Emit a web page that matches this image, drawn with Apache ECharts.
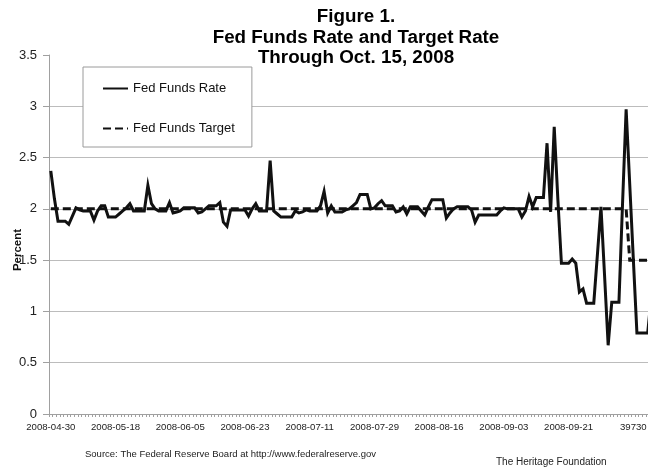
<!DOCTYPE html>
<html>
<head>
<meta charset="utf-8">
<title>Fed Funds Rate and Target Rate</title>
<script src="https://cdn.jsdelivr.net/npm/echarts@6/dist/echarts.min.js"></script>
<style>
  html, body { margin: 0; padding: 0; background: #fff; overflow: hidden; }
  #chart { width: 648px; height: 468px; }
</style>
</head>
<body>
<div id="chart"></div>
<script>
// Daily observations, 2008-04-30 onward (weekends and holidays carry the prior business day)
const startDate = [2008, 3, 30];

// Labels shown under every 18th day
const tickLabels = [
  '2008-04-30', '2008-05-18', '2008-06-05', '2008-06-23', '2008-07-11',
  '2008-07-29', '2008-08-16', '2008-09-03', '2008-09-21', '39730'
];

// Effective federal funds rate, percent
const fedFundsRate = [
  2.37, 2.10, 1.88, 1.88, 1.88, 1.85, 1.93, 2.01, 1.99, 1.98, 1.98, 1.98, 1.89, 1.98,
  2.03, 2.03, 1.92, 1.92, 1.92, 1.95, 1.98, 2.01, 2.05, 1.98, 1.98, 1.98, 1.98, 2.23,
  2.05, 2.00, 1.98, 1.98, 1.98, 2.06, 1.96, 1.97, 1.98, 2.01, 2.01, 2.01, 2.01, 1.96,
  1.97, 2.00, 2.03, 2.03, 2.03, 2.06, 1.87, 1.83, 1.99, 1.99, 1.99, 1.99, 1.99, 1.93,
  2.00, 2.05, 1.98, 1.98, 1.98, 2.47, 1.98, 1.95, 1.92, 1.92, 1.92, 1.92, 1.98, 1.96,
  1.97, 1.99, 1.98, 1.98, 1.98, 2.03, 2.17, 1.96, 2.03, 1.97, 1.97, 1.97, 1.99, 2.00,
  2.03, 2.06, 2.14, 2.14, 2.14, 2.00, 2.01, 2.05, 2.08, 2.03, 2.03, 2.03, 1.97, 1.98,
  2.02, 1.95, 2.02, 2.02, 2.02, 1.98, 1.94, 2.02, 2.09, 2.09, 2.09, 2.09, 1.91, 1.96,
  2.00, 2.02, 2.02, 2.02, 2.02, 1.99, 1.87, 1.94, 1.94, 1.94, 1.94, 1.94, 1.94, 1.98,
  2.01, 2.00, 2.00, 2.00, 2.00, 1.92, 1.98, 2.12, 2.02, 2.11, 2.11, 2.11, 2.64, 1.97,
  2.80, 2.10, 1.47, 1.47, 1.47, 1.51, 1.47, 1.19, 1.22, 1.08, 1.08, 1.08, 1.55, 2.02,
  1.35, 0.67, 1.09, 1.09, 1.09, 2.05, 2.97, 2.24, 1.51, 0.79, 0.79, 0.79, 0.79, 1.15,
  1.05
];

// FOMC target rate, percent
const fedFundsTarget = [
  2.00, 2.00, 2.00, 2.00, 2.00, 2.00, 2.00, 2.00, 2.00, 2.00, 2.00, 2.00, 2.00, 2.00,
  2.00, 2.00, 2.00, 2.00, 2.00, 2.00, 2.00, 2.00, 2.00, 2.00, 2.00, 2.00, 2.00, 2.00,
  2.00, 2.00, 2.00, 2.00, 2.00, 2.00, 2.00, 2.00, 2.00, 2.00, 2.00, 2.00, 2.00, 2.00,
  2.00, 2.00, 2.00, 2.00, 2.00, 2.00, 2.00, 2.00, 2.00, 2.00, 2.00, 2.00, 2.00, 2.00,
  2.00, 2.00, 2.00, 2.00, 2.00, 2.00, 2.00, 2.00, 2.00, 2.00, 2.00, 2.00, 2.00, 2.00,
  2.00, 2.00, 2.00, 2.00, 2.00, 2.00, 2.00, 2.00, 2.00, 2.00, 2.00, 2.00, 2.00, 2.00,
  2.00, 2.00, 2.00, 2.00, 2.00, 2.00, 2.00, 2.00, 2.00, 2.00, 2.00, 2.00, 2.00, 2.00,
  2.00, 2.00, 2.00, 2.00, 2.00, 2.00, 2.00, 2.00, 2.00, 2.00, 2.00, 2.00, 2.00, 2.00,
  2.00, 2.00, 2.00, 2.00, 2.00, 2.00, 2.00, 2.00, 2.00, 2.00, 2.00, 2.00, 2.00, 2.00,
  2.00, 2.00, 2.00, 2.00, 2.00, 2.00, 2.00, 2.00, 2.00, 2.00, 2.00, 2.00, 2.00, 2.00,
  2.00, 2.00, 2.00, 2.00, 2.00, 2.00, 2.00, 2.00, 2.00, 2.00, 2.00, 2.00, 2.00, 2.00,
  2.00, 2.00, 2.00, 2.00, 2.00, 2.00, 2.00, 1.50, 1.50, 1.50, 1.50, 1.50, 1.50, 1.50,
  1.50
];

// One category per calendar day
const categories = fedFundsRate.map(function (_, i) {
  const d = new Date(Date.UTC(startDate[0], startDate[1], startDate[2] + i));
  return d.toISOString().slice(0, 10);
});

const FONT = '"Liberation Sans", Arial, Helvetica, sans-serif';
const AXIS_GREY = '#a0a0a0';

const chart = echarts.init(document.getElementById('chart'), null, { renderer: 'canvas' });

chart.setOption({
  animation: false,
  backgroundColor: '#ffffff',
  textStyle: { fontFamily: FONT },
  title: [
    {
      text: 'Figure 1.\nFed Funds Rate and Target Rate\nThrough Oct. 15, 2008',
      left: 356,
      top: 7,
      padding: 0,
      textAlign: 'center',
      textStyle: {
        fontFamily: FONT, fontSize: 18.8, fontWeight: 'bold',
        lineHeight: 20.5, color: '#000'
      }
    },
    {
      text: 'Source: The Federal Reserve Board at http://www.federalreserve.gov',
      left: 85,
      top: 449,
      padding: 0,
      textStyle: { fontFamily: FONT, fontSize: 9.5, fontWeight: 'normal', color: '#222' }
    },
    {
      text: 'The Heritage Foundation',
      left: 496,
      top: 457,
      padding: 0,
      textStyle: { fontFamily: FONT, fontSize: 10, fontWeight: 'normal', color: '#222' }
    }
  ],
  legend: {
    orient: 'vertical',
    left: 83,
    top: 67,
    padding: [15, 17, 12, 19],
    itemGap: 27,
    itemWidth: 25,
    itemHeight: 14,
    borderColor: '#9a9a9a',
    borderWidth: 1,
    backgroundColor: '#ffffff',
    itemStyle: { opacity: 0, borderWidth: 0 },
    textStyle: { fontFamily: FONT, fontSize: 13, color: '#111' },
    data: ['Fed Funds Rate', 'Fed Funds Target']
  },
  grid: {
    left: 49,
    top: 55,
    width: 607.7,
    height: 359,
    containLabel: false,
    outerBoundsMode: 'none'
  },
  xAxis: {
    type: 'category',
    data: categories,
    boundaryGap: true,
    axisLine: { show: true, lineStyle: { color: AXIS_GREY, width: 1 } },
    axisTick: { show: true, interval: 0, length: 3, lineStyle: { color: AXIS_GREY } },
    axisLabel: {
      interval: 17,
      margin: 8,
      fontFamily: FONT,
      fontSize: 9.6,
      color: '#222',
      formatter: function (value, index) {
        return index % 18 === 0 ? tickLabels[index / 18] : '';
      }
    },
    splitLine: { show: false }
  },
  yAxis: {
    type: 'value',
    min: 0,
    max: 3.5,
    interval: 0.5,
    axisLine: { show: true, lineStyle: { color: AXIS_GREY, width: 1 } },
    axisTick: { show: true, length: 6, lineStyle: { color: AXIS_GREY } },
    axisLabel: { margin: 12, fontFamily: FONT, fontSize: 13, color: '#222' },
    splitLine: {
      show: true,
      showMaxLine: false,
      lineStyle: { color: '#bcbcbc', width: 1 }
    }
  },
  graphic: [
    {
      type: 'text',
      x: 18,
      y: 250,
      rotation: Math.PI / 2,
      style: {
        text: 'Percent',
        fontFamily: FONT,
        fontSize: 11.5,
        fontWeight: 'bold',
        fill: '#111',
        align: 'center',
        verticalAlign: 'middle'
      }
    }
  ],
  series: [
    {
      name: 'Fed Funds Rate',
      type: 'line',
      data: fedFundsRate,
      symbol: 'none',
      z: 2,
      itemStyle: { color: '#111' },
      lineStyle: { color: '#111', width: 3, join: 'miter' }
    },
    {
      name: 'Fed Funds Target',
      type: 'line',
      data: fedFundsTarget,
      symbol: 'none',
      z: 3,
      itemStyle: { color: '#111' },
      lineStyle: { color: '#111', width: 3, type: [8, 4], join: 'miter' }
    }
  ]
});
</script>
</body>
</html>
